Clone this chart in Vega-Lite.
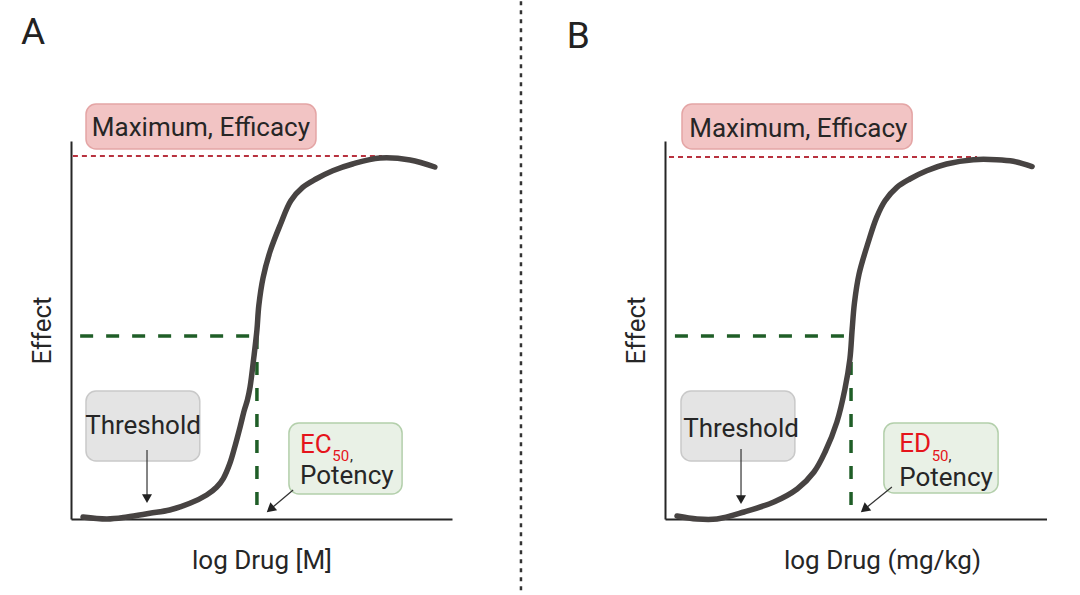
{
  "$schema": "https://vega.github.io/schema/vega-lite/v6.json",
  "background": "white",
  "padding": {"left": 21, "top": 0, "right": 0, "bottom": 0},
  "autosize": {"type": "pad"},
  "bounds": "flush",
  "spacing": 213,
  "datasets": {
    "curve": [
      {"panel": "A", "logDose": 0.315, "effect": 0.53},
      {"panel": "A", "logDose": 0.945, "effect": 0.0},
      {"panel": "A", "logDose": 1.47, "effect": 0.53},
      {"panel": "A", "logDose": 2.07, "effect": 1.51},
      {"panel": "A", "logDose": 2.59, "effect": 2.38},
      {"panel": "A", "logDose": 3.12, "effect": 4.15},
      {"panel": "A", "logDose": 3.56, "effect": 6.35},
      {"panel": "A", "logDose": 3.82, "effect": 8.39},
      {"panel": "A", "logDose": 4.00, "effect": 10.77},
      {"panel": "A", "logDose": 4.17, "effect": 14.74},
      {"panel": "A", "logDose": 4.30, "effect": 19.13},
      {"panel": "A", "logDose": 4.44, "effect": 24.42},
      {"panel": "A", "logDose": 4.55, "effect": 28.84},
      {"panel": "A", "logDose": 4.63, "effect": 31.48},
      {"panel": "A", "logDose": 4.70, "effect": 34.92},
      {"panel": "A", "logDose": 4.80, "effect": 42.86},
      {"panel": "A", "logDose": 4.88, "effect": 50.0},
      {"panel": "A", "logDose": 4.93, "effect": 56.5},
      {"panel": "A", "logDose": 5.04, "effect": 63.76},
      {"panel": "A", "logDose": 5.22, "effect": 70.63},
      {"panel": "A", "logDose": 5.49, "effect": 77.78},
      {"panel": "A", "logDose": 5.77, "effect": 84.21},
      {"panel": "A", "logDose": 6.08, "effect": 87.75},
      {"panel": "A", "logDose": 6.43, "effect": 89.95},
      {"panel": "A", "logDose": 6.87, "effect": 92.14},
      {"panel": "A", "logDose": 7.39, "effect": 93.92},
      {"panel": "A", "logDose": 8.11, "effect": 95.50},
      {"panel": "A", "logDose": 8.90, "effect": 94.97},
      {"panel": "A", "logDose": 9.55, "effect": 93.12},
      {"panel": "B", "logDose": 0.314, "effect": 0.79},
      {"panel": "B", "logDose": 0.838, "effect": 0.0},
      {"panel": "B", "logDose": 1.36, "effect": 0.0},
      {"panel": "B", "logDose": 2.07, "effect": 1.85},
      {"panel": "B", "logDose": 2.85, "effect": 4.50},
      {"panel": "B", "logDose": 3.46, "effect": 7.94},
      {"panel": "B", "logDose": 3.90, "effect": 12.43},
      {"panel": "B", "logDose": 4.19, "effect": 17.72},
      {"panel": "B", "logDose": 4.50, "effect": 25.66},
      {"panel": "B", "logDose": 4.71, "effect": 34.39},
      {"panel": "B", "logDose": 4.84, "effect": 42.33},
      {"panel": "B", "logDose": 4.90, "effect": 50.26},
      {"panel": "B", "logDose": 4.96, "effect": 57.2},
      {"panel": "B", "logDose": 5.08, "effect": 64.81},
      {"panel": "B", "logDose": 5.32, "effect": 73.20},
      {"panel": "B", "logDose": 5.54, "effect": 79.81},
      {"panel": "B", "logDose": 5.76, "effect": 84.21},
      {"panel": "B", "logDose": 6.07, "effect": 87.75},
      {"panel": "B", "logDose": 6.41, "effect": 89.95},
      {"panel": "B", "logDose": 6.85, "effect": 92.14},
      {"panel": "B", "logDose": 7.37, "effect": 93.92},
      {"panel": "B", "logDose": 8.07, "effect": 95.05},
      {"panel": "B", "logDose": 8.68, "effect": 95.05},
      {"panel": "B", "logDose": 9.12, "effect": 94.63},
      {"panel": "B", "logDose": 9.61, "effect": 93.25}
    ],
    "guides": [
      {"panel": "A", "guide": "max", "logDose": 0.05, "logDose2": 8.16, "effect": 96.03, "effect2": 96.03},
      {"panel": "A", "guide": "ec50", "logDose": 0.24, "logDose2": 4.88, "effect": 48.4, "effect2": 48.4},
      {"panel": "A", "guide": "ec50", "logDose": 4.88, "logDose2": 4.88, "effect": 48.4, "effect2": 1.85},
      {"panel": "A", "guide": "divider", "logDose": 11.81, "logDose2": 11.81, "effect": 136.97, "effect2": -19.58},
      {"panel": "B", "guide": "max", "logDose": 0.105, "logDose2": 8.17, "effect": 95.77, "effect2": 95.77},
      {"panel": "B", "guide": "ec50", "logDose": 0.26, "logDose2": 4.87, "effect": 48.41, "effect2": 48.41},
      {"panel": "B", "guide": "ec50", "logDose": 4.87, "logDose2": 4.87, "effect": 48.41, "effect2": 2.12}
    ],
    "boxes": [
      {"panel": "A", "box": "max", "logDose": 0.394, "logDose2": 6.43, "effect": 109.79, "effect2": 97.88},
      {"panel": "A", "box": "threshold", "logDose": 0.394, "logDose2": 3.38, "effect": 33.86, "effect2": 15.34},
      {"panel": "A", "box": "potency", "logDose": 5.72, "logDose2": 8.69, "effect": 25.40, "effect2": 6.61},
      {"panel": "B", "box": "max", "logDose": 0.445, "logDose2": 6.47, "effect": 109.79, "effect2": 97.88},
      {"panel": "B", "box": "threshold", "logDose": 0.419, "logDose2": 3.40, "effect": 33.86, "effect2": 15.34},
      {"panel": "B", "box": "potency", "logDose": 5.73, "logDose2": 8.72, "effect": 25.40, "effect2": 6.88}
    ],
    "labels": [
      {"panel": "A", "part": "panel", "text": "A", "logDose": -1.31, "effect": 125.66},
      {"panel": "A", "part": "center", "text": "Maximum, Efficacy", "logDose": 3.41, "effect": 101.32},
      {"panel": "A", "part": "center", "text": "Threshold", "logDose": 1.89, "effect": 22.49},
      {"panel": "A", "part": "left", "text": "Potency", "logDose": 6.01, "effect": 9.13},
      {"panel": "A", "part": "red", "text": "EC", "logDose": 6.01, "effect": 17.46},
      {"panel": "A", "part": "sub", "text": "50", "logDose": 6.86, "effect": 15.42},
      {"panel": "A", "part": "comma", "text": ",", "logDose": 7.32, "effect": 15.42},
      {"panel": "B", "part": "panel", "text": "B", "logDose": -2.57, "effect": 124.6},
      {"panel": "B", "part": "center", "text": "Maximum, Efficacy", "logDose": 3.49, "effect": 101.14},
      {"panel": "B", "part": "center", "text": "Threshold", "logDose": 1.99, "effect": 21.61},
      {"panel": "B", "part": "left", "text": "Potency", "logDose": 6.13, "effect": 8.86},
      {"panel": "B", "part": "red", "text": "ED", "logDose": 6.13, "effect": 17.65},
      {"panel": "B", "part": "sub", "text": "50", "logDose": 6.98, "effect": 15.42},
      {"panel": "B", "part": "comma", "text": ",", "logDose": 7.42, "effect": 15.42}
    ],
    "arrows": [
      {"panel": "A", "arrow": "threshold", "logDose": 1.995, "logDose2": 1.995, "effect": 18.25, "effect2": 5.4},
      {"panel": "A", "arrow": "potency", "logDose": 5.83, "logDose2": 5.23, "effect": 7.67, "effect2": 2.59},
      {"panel": "B", "arrow": "threshold", "logDose": 1.99, "logDose2": 1.99, "effect": 18.52, "effect2": 5.11},
      {"panel": "B", "arrow": "potency", "logDose": 5.94, "logDose2": 5.22, "effect": 8.47, "effect2": 2.57}
    ],
    "heads": [
      {"panel": "A", "arrow": "threshold", "logDose": 1.995, "effect": 5.37},
      {"panel": "A", "arrow": "potency", "logDose": 5.23, "effect": 2.59},
      {"panel": "B", "arrow": "threshold", "logDose": 1.99, "effect": 5.11},
      {"panel": "B", "arrow": "potency", "logDose": 5.22, "effect": 2.57}
    ]
  },
  "hconcat": [
    {
      "width": 381,
      "height": 378,
      "encoding": {
        "x": {"field": "logDose", "type": "quantitative", "scale": {"domain": [0, 10], "nice": false, "zero": false}, "axis": {"title": "log Drug [M]"}},
        "y": {"field": "effect", "type": "quantitative", "scale": {"domain": [0, 100], "nice": false, "zero": false}, "axis": {"title": "Effect"}}
      },
      "layer": [
        {"data": {"name": "guides"}, "transform": [{"filter": "datum.panel == 'A' && datum.guide == 'max'"}], "mark": {"type": "rule", "color": "#b8323f", "strokeWidth": 2, "strokeDash": [5, 4]}, "encoding": {"x2": {"field": "logDose2"}, "y2": {"field": "effect2"}}},
        {"data": {"name": "guides"}, "transform": [{"filter": "datum.panel == 'A' && datum.guide == 'ec50'"}], "mark": {"type": "rule", "color": "#1f5e27", "strokeWidth": 3.5, "strokeDash": [13, 13]}, "encoding": {"x2": {"field": "logDose2"}, "y2": {"field": "effect2"}}},
        {"data": {"name": "guides"}, "transform": [{"filter": "datum.panel == 'A' && datum.guide == 'divider'"}], "mark": {"type": "rule", "color": "#333333", "strokeWidth": 2.5, "strokeDash": [4, 5]}, "encoding": {"x2": {"field": "logDose2"}, "y2": {"field": "effect2"}}},
        {"data": {"name": "curve"}, "transform": [{"filter": "datum.panel == 'A'"}], "mark": {"type": "line", "color": "#474342", "strokeWidth": 5.5, "interpolate": "catmull-rom", "strokeCap": "round"}, "encoding": {}},
        {"data": {"name": "boxes"}, "transform": [{"filter": "datum.panel == 'A' && datum.box == 'max'"}], "mark": {"type": "rect", "fill": "#f2c4c4", "stroke": "#e4a5a5", "strokeWidth": 1.5, "cornerRadius": 10}, "encoding": {"x2": {"field": "logDose2"}, "y2": {"field": "effect2"}}},
        {"data": {"name": "boxes"}, "transform": [{"filter": "datum.panel == 'A' && datum.box == 'threshold'"}], "mark": {"type": "rect", "fill": "#e4e4e4", "stroke": "#c9c9c9", "strokeWidth": 1.5, "cornerRadius": 10}, "encoding": {"x2": {"field": "logDose2"}, "y2": {"field": "effect2"}}},
        {"data": {"name": "boxes"}, "transform": [{"filter": "datum.panel == 'A' && datum.box == 'potency'"}], "mark": {"type": "rect", "fill": "#e9f1e6", "stroke": "#b3cfab", "strokeWidth": 1.5, "cornerRadius": 10}, "encoding": {"x2": {"field": "logDose2"}, "y2": {"field": "effect2"}}},
        {"data": {"name": "arrows"}, "transform": [{"filter": "datum.panel == 'A'"}], "mark": {"type": "rule", "color": "#333333", "strokeWidth": 1.2}, "encoding": {"x2": {"field": "logDose2"}, "y2": {"field": "effect2"}}},
        {"data": {"name": "heads"}, "transform": [{"filter": "datum.panel == 'A' && datum.arrow == 'threshold'"}], "mark": {"type": "point", "shape": "triangle-down", "size": 100, "filled": true, "color": "#222222", "opacity": 1}, "encoding": {}},
        {"data": {"name": "heads"}, "transform": [{"filter": "datum.panel == 'A' && datum.arrow == 'potency'"}], "mark": {"type": "point", "shape": "triangle-up", "angle": 230, "size": 110, "filled": true, "color": "#222222", "opacity": 1}, "encoding": {}},
        {"data": {"name": "labels"}, "transform": [{"filter": "datum.panel == 'A' && datum.part == 'panel'"}], "mark": {"type": "text", "align": "left", "baseline": "alphabetic", "font": "Roboto", "fontSize": 37, "fill": "#222222"}, "encoding": {"text": {"field": "text"}}},
        {"data": {"name": "labels"}, "transform": [{"filter": "datum.panel == 'A' && datum.part == 'center'"}], "mark": {"type": "text", "align": "center", "baseline": "alphabetic", "font": "Roboto", "fontSize": 26, "fill": "#262626"}, "encoding": {"text": {"field": "text"}}},
        {"data": {"name": "labels"}, "transform": [{"filter": "datum.panel == 'A' && datum.part == 'left'"}], "mark": {"type": "text", "align": "left", "baseline": "alphabetic", "font": "Roboto", "fontSize": 26, "fill": "#262626"}, "encoding": {"text": {"field": "text"}}},
        {"data": {"name": "labels"}, "transform": [{"filter": "datum.panel == 'A' && datum.part == 'red'"}], "mark": {"type": "text", "align": "left", "baseline": "alphabetic", "font": "Roboto", "fontSize": 26, "fill": "#e5141b"}, "encoding": {"text": {"field": "text"}}},
        {"data": {"name": "labels"}, "transform": [{"filter": "datum.panel == 'A' && datum.part == 'sub'"}], "mark": {"type": "text", "align": "left", "baseline": "alphabetic", "font": "Roboto", "fontSize": 15, "fill": "#e5141b"}, "encoding": {"text": {"field": "text"}}},
        {"data": {"name": "labels"}, "transform": [{"filter": "datum.panel == 'A' && datum.part == 'comma'"}], "mark": {"type": "text", "align": "left", "baseline": "alphabetic", "font": "Roboto", "fontSize": 15, "fill": "#262626"}, "encoding": {"text": {"field": "text"}}}
      ]
    },
    {
      "width": 382,
      "height": 378,
      "encoding": {
        "x": {"field": "logDose", "type": "quantitative", "scale": {"domain": [0, 10], "nice": false, "zero": false}, "axis": {"title": "log Drug (mg/kg)", "titleX": 217}},
        "y": {"field": "effect", "type": "quantitative", "scale": {"domain": [0, 100], "nice": false, "zero": false}, "axis": {"title": "Effect"}}
      },
      "layer": [
        {"data": {"name": "guides"}, "transform": [{"filter": "datum.panel == 'B' && datum.guide == 'max'"}], "mark": {"type": "rule", "color": "#b8323f", "strokeWidth": 2, "strokeDash": [5, 4]}, "encoding": {"x2": {"field": "logDose2"}, "y2": {"field": "effect2"}}},
        {"data": {"name": "guides"}, "transform": [{"filter": "datum.panel == 'B' && datum.guide == 'ec50'"}], "mark": {"type": "rule", "color": "#1f5e27", "strokeWidth": 3.5, "strokeDash": [13, 13]}, "encoding": {"x2": {"field": "logDose2"}, "y2": {"field": "effect2"}}},
        {"data": {"name": "curve"}, "transform": [{"filter": "datum.panel == 'B'"}], "mark": {"type": "line", "color": "#474342", "strokeWidth": 5.5, "interpolate": "catmull-rom", "strokeCap": "round"}, "encoding": {}},
        {"data": {"name": "boxes"}, "transform": [{"filter": "datum.panel == 'B' && datum.box == 'max'"}], "mark": {"type": "rect", "fill": "#f2c4c4", "stroke": "#e4a5a5", "strokeWidth": 1.5, "cornerRadius": 10}, "encoding": {"x2": {"field": "logDose2"}, "y2": {"field": "effect2"}}},
        {"data": {"name": "boxes"}, "transform": [{"filter": "datum.panel == 'B' && datum.box == 'threshold'"}], "mark": {"type": "rect", "fill": "#e4e4e4", "stroke": "#c9c9c9", "strokeWidth": 1.5, "cornerRadius": 10}, "encoding": {"x2": {"field": "logDose2"}, "y2": {"field": "effect2"}}},
        {"data": {"name": "boxes"}, "transform": [{"filter": "datum.panel == 'B' && datum.box == 'potency'"}], "mark": {"type": "rect", "fill": "#e9f1e6", "stroke": "#b3cfab", "strokeWidth": 1.5, "cornerRadius": 10}, "encoding": {"x2": {"field": "logDose2"}, "y2": {"field": "effect2"}}},
        {"data": {"name": "arrows"}, "transform": [{"filter": "datum.panel == 'B'"}], "mark": {"type": "rule", "color": "#333333", "strokeWidth": 1.2}, "encoding": {"x2": {"field": "logDose2"}, "y2": {"field": "effect2"}}},
        {"data": {"name": "heads"}, "transform": [{"filter": "datum.panel == 'B' && datum.arrow == 'threshold'"}], "mark": {"type": "point", "shape": "triangle-down", "size": 100, "filled": true, "color": "#222222", "opacity": 1}, "encoding": {}},
        {"data": {"name": "heads"}, "transform": [{"filter": "datum.panel == 'B' && datum.arrow == 'potency'"}], "mark": {"type": "point", "shape": "triangle-up", "angle": 231, "size": 110, "filled": true, "color": "#222222", "opacity": 1}, "encoding": {}},
        {"data": {"name": "labels"}, "transform": [{"filter": "datum.panel == 'B' && datum.part == 'panel'"}], "mark": {"type": "text", "align": "left", "baseline": "alphabetic", "font": "Roboto", "fontSize": 37, "fill": "#222222"}, "encoding": {"text": {"field": "text"}}},
        {"data": {"name": "labels"}, "transform": [{"filter": "datum.panel == 'B' && datum.part == 'center'"}], "mark": {"type": "text", "align": "center", "baseline": "alphabetic", "font": "Roboto", "fontSize": 26, "fill": "#262626"}, "encoding": {"text": {"field": "text"}}},
        {"data": {"name": "labels"}, "transform": [{"filter": "datum.panel == 'B' && datum.part == 'left'"}], "mark": {"type": "text", "align": "left", "baseline": "alphabetic", "font": "Roboto", "fontSize": 26, "fill": "#262626"}, "encoding": {"text": {"field": "text"}}},
        {"data": {"name": "labels"}, "transform": [{"filter": "datum.panel == 'B' && datum.part == 'red'"}], "mark": {"type": "text", "align": "left", "baseline": "alphabetic", "font": "Roboto", "fontSize": 26, "fill": "#e5141b"}, "encoding": {"text": {"field": "text"}}},
        {"data": {"name": "labels"}, "transform": [{"filter": "datum.panel == 'B' && datum.part == 'sub'"}], "mark": {"type": "text", "align": "left", "baseline": "alphabetic", "font": "Roboto", "fontSize": 15, "fill": "#e5141b"}, "encoding": {"text": {"field": "text"}}},
        {"data": {"name": "labels"}, "transform": [{"filter": "datum.panel == 'B' && datum.part == 'comma'"}], "mark": {"type": "text", "align": "left", "baseline": "alphabetic", "font": "Roboto", "fontSize": 15, "fill": "#262626"}, "encoding": {"text": {"field": "text"}}}
      ]
    }
  ],
  "config": {
    "view": {"stroke": null},
    "axis": {"domainColor": "#262626", "domainWidth": 2, "labels": false, "ticks": false, "grid": false, "titleFont": "Roboto", "titleFontSize": 26, "titleFontWeight": "normal", "titleColor": "#262626"},
    "axisX": {"titlePadding": 28},
    "axisY": {"titlePadding": 16}
  }
}
